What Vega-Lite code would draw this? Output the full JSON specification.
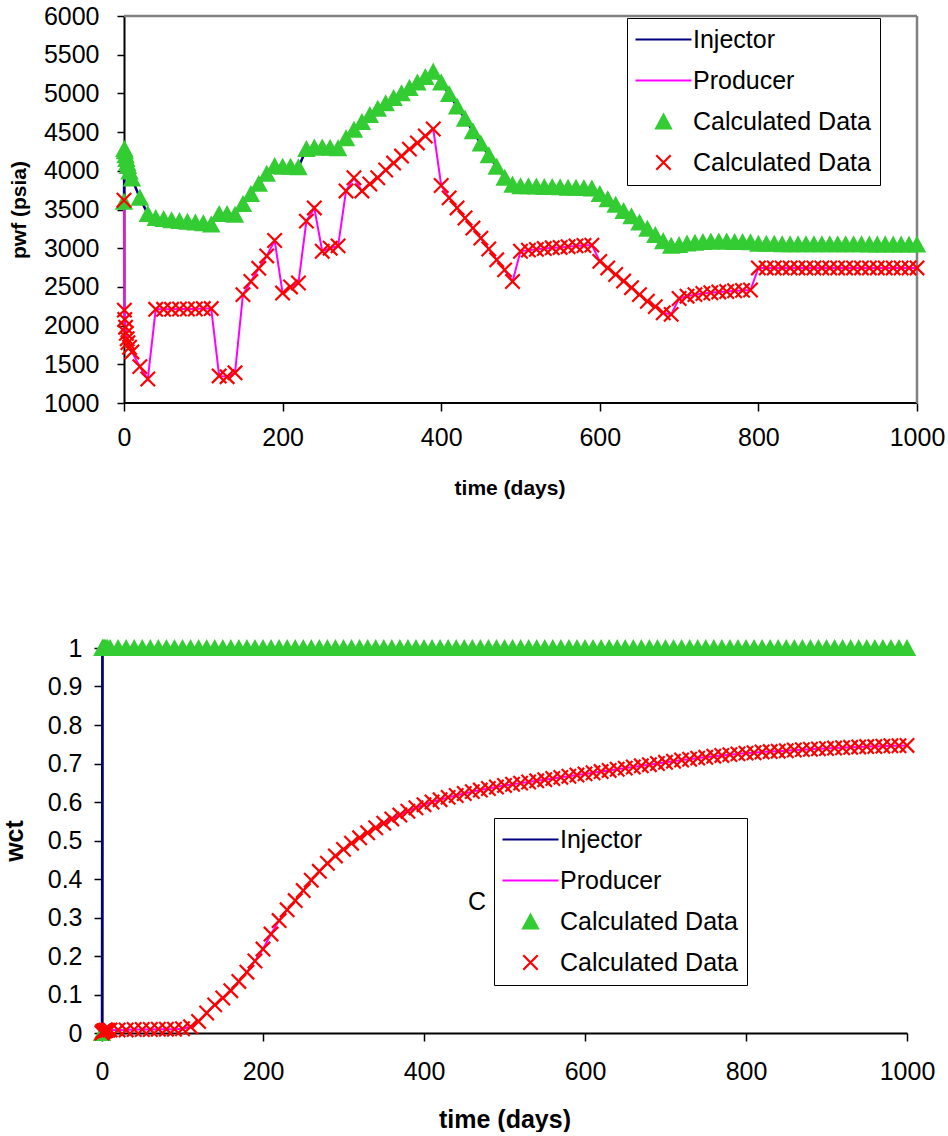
{
"$schema": "https://vega.github.io/schema/vega-lite/v6.json",
"background": "white",
"padding": {"left": 2, "top": 4, "right": 0, "bottom": 0},
"spacing": 138,
"config": {
  "view": {"stroke": null},
  "font": "Liberation Sans",
  "axis": {"labelFont": "Liberation Sans", "titleFont": "Liberation Sans", "labelColor": "#000", "titleColor": "#000", "grid": false, "tickColor": "#000", "domainColor": "#000", "domainWidth": 2, "tickWidth": 1.5, "labelOverlap": false, "labelFontSize": 25},
  "axisY": {"labelOverlap": false, "tickCount": 11},
  "axisX": {"labelOverlap": false},
  "axisQuantitative": {"labelOverlap": false}
},
"resolve": {"scale": {"shape": "independent", "fill": "independent", "stroke": "independent"}, "legend": {"shape": "independent", "fill": "independent", "stroke": "independent"}},
"datasets": {
"top": [
{"t":0,"CalcInj":3600,"CalcProd":3620},
{"t":0.5,"CalcInj":4280,"CalcProd":2200},
{"t":1,"CalcInj":4250,"CalcProd":2080},
{"t":2,"CalcInj":4200,"CalcProd":1980},
{"t":3,"CalcInj":4150,"CalcProd":1900},
{"t":4,"CalcInj":4100,"CalcProd":1830},
{"t":5,"CalcInj":4060,"CalcProd":1780},
{"t":7,"CalcInj":3990,"CalcProd":1720},
{"t":10,"CalcInj":3900,"CalcProd":1660},
{"t":20,"CalcInj":3650,"CalcProd":1470},
{"t":30,"CalcInj":3440,"CalcProd":1310},
{"t":40,"CalcInj":3390,"CalcProd":2210},
{"t":50,"CalcInj":3375,"CalcProd":2210},
{"t":60,"CalcInj":3360,"CalcProd":2210},
{"t":70,"CalcInj":3350,"CalcProd":2215},
{"t":80,"CalcInj":3340,"CalcProd":2215},
{"t":90,"CalcInj":3330,"CalcProd":2215},
{"t":100,"CalcInj":3320,"CalcProd":2220},
{"t":110,"CalcInj":3305,"CalcProd":2220},
{"t":120,"CalcInj":3440,"CalcProd":1350},
{"t":130,"CalcInj":3440,"CalcProd":1340},
{"t":140,"CalcInj":3430,"CalcProd":1390},
{"t":150,"CalcInj":3570,"CalcProd":2400},
{"t":160,"CalcInj":3700,"CalcProd":2570},
{"t":170,"CalcInj":3830,"CalcProd":2740},
{"t":180,"CalcInj":3960,"CalcProd":2900},
{"t":190,"CalcInj":4060,"CalcProd":3100},
{"t":200,"CalcInj":4050,"CalcProd":2420},
{"t":210,"CalcInj":4050,"CalcProd":2500},
{"t":220,"CalcInj":4045,"CalcProd":2550},
{"t":230,"CalcInj":4280,"CalcProd":3350},
{"t":240,"CalcInj":4300,"CalcProd":3520},
{"t":250,"CalcInj":4300,"CalcProd":2960},
{"t":260,"CalcInj":4295,"CalcProd":3000},
{"t":270,"CalcInj":4290,"CalcProd":3030},
{"t":280,"CalcInj":4420,"CalcProd":3740},
{"t":290,"CalcInj":4530,"CalcProd":3910},
{"t":300,"CalcInj":4630,"CalcProd":3740},
{"t":310,"CalcInj":4720,"CalcProd":3830},
{"t":320,"CalcInj":4800,"CalcProd":3910},
{"t":330,"CalcInj":4870,"CalcProd":4010},
{"t":340,"CalcInj":4940,"CalcProd":4100},
{"t":350,"CalcInj":5000,"CalcProd":4190},
{"t":360,"CalcInj":5070,"CalcProd":4280},
{"t":370,"CalcInj":5140,"CalcProd":4360},
{"t":380,"CalcInj":5210,"CalcProd":4450},
{"t":390,"CalcInj":5280,"CalcProd":4540},
{"t":400,"CalcInj":5140,"CalcProd":3810},
{"t":410,"CalcInj":4990,"CalcProd":3650},
{"t":420,"CalcInj":4830,"CalcProd":3520},
{"t":430,"CalcInj":4670,"CalcProd":3390},
{"t":440,"CalcInj":4510,"CalcProd":3260},
{"t":450,"CalcInj":4350,"CalcProd":3130},
{"t":460,"CalcInj":4200,"CalcProd":2990},
{"t":470,"CalcInj":4050,"CalcProd":2850},
{"t":480,"CalcInj":3910,"CalcProd":2720},
{"t":490,"CalcInj":3820,"CalcProd":2570},
{"t":500,"CalcInj":3800,"CalcProd":2960},
{"t":510,"CalcInj":3800,"CalcProd":2975},
{"t":520,"CalcInj":3795,"CalcProd":2985},
{"t":530,"CalcInj":3790,"CalcProd":2995},
{"t":540,"CalcInj":3790,"CalcProd":3005},
{"t":550,"CalcInj":3785,"CalcProd":3010},
{"t":560,"CalcInj":3780,"CalcProd":3020},
{"t":570,"CalcInj":3780,"CalcProd":3030},
{"t":580,"CalcInj":3775,"CalcProd":3035},
{"t":590,"CalcInj":3770,"CalcProd":3040},
{"t":600,"CalcInj":3700,"CalcProd":2830},
{"t":610,"CalcInj":3630,"CalcProd":2745},
{"t":620,"CalcInj":3560,"CalcProd":2660},
{"t":630,"CalcInj":3480,"CalcProd":2575},
{"t":640,"CalcInj":3410,"CalcProd":2490},
{"t":650,"CalcInj":3330,"CalcProd":2400},
{"t":660,"CalcInj":3250,"CalcProd":2315},
{"t":670,"CalcInj":3170,"CalcProd":2245},
{"t":680,"CalcInj":3090,"CalcProd":2165},
{"t":690,"CalcInj":3030,"CalcProd":2145},
{"t":700,"CalcInj":3040,"CalcProd":2350},
{"t":710,"CalcInj":3060,"CalcProd":2380},
{"t":720,"CalcInj":3070,"CalcProd":2400},
{"t":730,"CalcInj":3080,"CalcProd":2415},
{"t":740,"CalcInj":3085,"CalcProd":2425},
{"t":750,"CalcInj":3085,"CalcProd":2435},
{"t":760,"CalcInj":3085,"CalcProd":2440},
{"t":770,"CalcInj":3080,"CalcProd":2450},
{"t":780,"CalcInj":3080,"CalcProd":2455},
{"t":790,"CalcInj":3075,"CalcProd":2460},
{"t":800,"CalcInj":3055,"CalcProd":2745},
{"t":810,"CalcInj":3055,"CalcProd":2745},
{"t":820,"CalcInj":3055,"CalcProd":2745},
{"t":830,"CalcInj":3050,"CalcProd":2745},
{"t":840,"CalcInj":3050,"CalcProd":2745},
{"t":850,"CalcInj":3050,"CalcProd":2745},
{"t":860,"CalcInj":3050,"CalcProd":2745},
{"t":870,"CalcInj":3050,"CalcProd":2745},
{"t":880,"CalcInj":3050,"CalcProd":2745},
{"t":890,"CalcInj":3050,"CalcProd":2745},
{"t":900,"CalcInj":3050,"CalcProd":2745},
{"t":910,"CalcInj":3050,"CalcProd":2745},
{"t":920,"CalcInj":3050,"CalcProd":2745},
{"t":930,"CalcInj":3050,"CalcProd":2745},
{"t":940,"CalcInj":3048,"CalcProd":2745},
{"t":950,"CalcInj":3048,"CalcProd":2745},
{"t":960,"CalcInj":3048,"CalcProd":2745},
{"t":970,"CalcInj":3046,"CalcProd":2745},
{"t":980,"CalcInj":3046,"CalcProd":2745},
{"t":990,"CalcInj":3045,"CalcProd":2745},
{"t":1000,"CalcInj":3045,"CalcProd":2745}
],
"bot": [
{"t":0,"CalcInj":0,"CalcProd":0},
{"t":0.5,"CalcInj":1,"CalcProd":0.002},
{"t":1,"CalcInj":1,"CalcProd":0.004},
{"t":2,"CalcInj":1,"CalcProd":0.005},
{"t":3,"CalcInj":1,"CalcProd":0.006},
{"t":4,"CalcInj":1,"CalcProd":0.006},
{"t":5,"CalcInj":1,"CalcProd":0.007},
{"t":7,"CalcInj":1,"CalcProd":0.007},
{"t":10,"CalcInj":1,"CalcProd":0.008},
{"t":20,"CalcInj":1,"CalcProd":0.008},
{"t":30,"CalcInj":1,"CalcProd":0.008},
{"t":40,"CalcInj":1,"CalcProd":0.009},
{"t":50,"CalcInj":1,"CalcProd":0.009},
{"t":60,"CalcInj":1,"CalcProd":0.009},
{"t":70,"CalcInj":1,"CalcProd":0.01},
{"t":80,"CalcInj":1,"CalcProd":0.01},
{"t":90,"CalcInj":1,"CalcProd":0.01},
{"t":100,"CalcInj":1,"CalcProd":0.011},
{"t":110,"CalcInj":1,"CalcProd":0.016},
{"t":120,"CalcInj":1,"CalcProd":0.03},
{"t":130,"CalcInj":1,"CalcProd":0.052},
{"t":140,"CalcInj":1,"CalcProd":0.073},
{"t":150,"CalcInj":1,"CalcProd":0.091},
{"t":160,"CalcInj":1,"CalcProd":0.11},
{"t":170,"CalcInj":1,"CalcProd":0.134},
{"t":180,"CalcInj":1,"CalcProd":0.158},
{"t":190,"CalcInj":1,"CalcProd":0.187},
{"t":200,"CalcInj":1,"CalcProd":0.218},
{"t":210,"CalcInj":1,"CalcProd":0.257},
{"t":220,"CalcInj":1,"CalcProd":0.292},
{"t":230,"CalcInj":1,"CalcProd":0.32},
{"t":240,"CalcInj":1,"CalcProd":0.344},
{"t":250,"CalcInj":1,"CalcProd":0.37},
{"t":260,"CalcInj":1,"CalcProd":0.397},
{"t":270,"CalcInj":1,"CalcProd":0.42},
{"t":280,"CalcInj":1,"CalcProd":0.441},
{"t":290,"CalcInj":1,"CalcProd":0.46},
{"t":300,"CalcInj":1,"CalcProd":0.477},
{"t":310,"CalcInj":1,"CalcProd":0.493},
{"t":320,"CalcInj":1,"CalcProd":0.507},
{"t":330,"CalcInj":1,"CalcProd":0.52},
{"t":340,"CalcInj":1,"CalcProd":0.533},
{"t":350,"CalcInj":1,"CalcProd":0.545},
{"t":360,"CalcInj":1,"CalcProd":0.556},
{"t":370,"CalcInj":1,"CalcProd":0.566},
{"t":380,"CalcInj":1,"CalcProd":0.576},
{"t":390,"CalcInj":1,"CalcProd":0.585},
{"t":400,"CalcInj":1,"CalcProd":0.593},
{"t":410,"CalcInj":1,"CalcProd":0.6},
{"t":420,"CalcInj":1,"CalcProd":0.606},
{"t":430,"CalcInj":1,"CalcProd":0.612},
{"t":440,"CalcInj":1,"CalcProd":0.617},
{"t":450,"CalcInj":1,"CalcProd":0.622},
{"t":460,"CalcInj":1,"CalcProd":0.627},
{"t":470,"CalcInj":1,"CalcProd":0.631},
{"t":480,"CalcInj":1,"CalcProd":0.635},
{"t":490,"CalcInj":1,"CalcProd":0.639},
{"t":500,"CalcInj":1,"CalcProd":0.643},
{"t":510,"CalcInj":1,"CalcProd":0.646},
{"t":520,"CalcInj":1,"CalcProd":0.649},
{"t":530,"CalcInj":1,"CalcProd":0.652},
{"t":540,"CalcInj":1,"CalcProd":0.655},
{"t":550,"CalcInj":1,"CalcProd":0.658},
{"t":560,"CalcInj":1,"CalcProd":0.661},
{"t":570,"CalcInj":1,"CalcProd":0.664},
{"t":580,"CalcInj":1,"CalcProd":0.667},
{"t":590,"CalcInj":1,"CalcProd":0.67},
{"t":600,"CalcInj":1,"CalcProd":0.673},
{"t":610,"CalcInj":1,"CalcProd":0.676},
{"t":620,"CalcInj":1,"CalcProd":0.679},
{"t":630,"CalcInj":1,"CalcProd":0.682},
{"t":640,"CalcInj":1,"CalcProd":0.685},
{"t":650,"CalcInj":1,"CalcProd":0.688},
{"t":660,"CalcInj":1,"CalcProd":0.691},
{"t":670,"CalcInj":1,"CalcProd":0.694},
{"t":680,"CalcInj":1,"CalcProd":0.697},
{"t":690,"CalcInj":1,"CalcProd":0.7},
{"t":700,"CalcInj":1,"CalcProd":0.703},
{"t":710,"CalcInj":1,"CalcProd":0.706},
{"t":720,"CalcInj":1,"CalcProd":0.709},
{"t":730,"CalcInj":1,"CalcProd":0.711},
{"t":740,"CalcInj":1,"CalcProd":0.714},
{"t":750,"CalcInj":1,"CalcProd":0.716},
{"t":760,"CalcInj":1,"CalcProd":0.719},
{"t":770,"CalcInj":1,"CalcProd":0.721},
{"t":780,"CalcInj":1,"CalcProd":0.723},
{"t":790,"CalcInj":1,"CalcProd":0.725},
{"t":800,"CalcInj":1,"CalcProd":0.727},
{"t":810,"CalcInj":1,"CalcProd":0.728},
{"t":820,"CalcInj":1,"CalcProd":0.73},
{"t":830,"CalcInj":1,"CalcProd":0.731},
{"t":840,"CalcInj":1,"CalcProd":0.732},
{"t":850,"CalcInj":1,"CalcProd":0.733},
{"t":860,"CalcInj":1,"CalcProd":0.735},
{"t":870,"CalcInj":1,"CalcProd":0.736},
{"t":880,"CalcInj":1,"CalcProd":0.737},
{"t":890,"CalcInj":1,"CalcProd":0.738},
{"t":900,"CalcInj":1,"CalcProd":0.739},
{"t":910,"CalcInj":1,"CalcProd":0.74},
{"t":920,"CalcInj":1,"CalcProd":0.741},
{"t":930,"CalcInj":1,"CalcProd":0.742},
{"t":940,"CalcInj":1,"CalcProd":0.743},
{"t":950,"CalcInj":1,"CalcProd":0.744},
{"t":960,"CalcInj":1,"CalcProd":0.744},
{"t":970,"CalcInj":1,"CalcProd":0.745},
{"t":980,"CalcInj":1,"CalcProd":0.746},
{"t":990,"CalcInj":1,"CalcProd":0.746},
{"t":1000,"CalcInj":1,"CalcProd":0.747}
],
"note": [{"t": 466, "v": 0.341, "label": "C"}]
},
"vconcat": [
{
  "width": 815, "height": 387,
  "layer": [
    {
      "data": {"values": [{}]},
      "mark": {"type": "rule", "color": "#000", "strokeWidth": 2},
      "encoding": {"x": {"datum": 0, "type": "quantitative", "title": "time (days)"}, "x2": {"datum": 1000}, "y": {"datum": 1000, "type": "quantitative", "title": "pwf (psia)"}}
    },
    {
      "data": {"values": [{}]},
      "mark": {"type": "rule", "color": "#808080", "strokeWidth": 2.5},
      "encoding": {"x": {"datum": 0, "type": "quantitative", "title": "time (days)"}, "x2": {"datum": 1000}, "y": {"datum": 6000, "type": "quantitative", "title": "pwf (psia)"}}
    },
    {
      "data": {"values": [{}]},
      "mark": {"type": "rule", "color": "#808080", "strokeWidth": 2.5},
      "encoding": {"x": {"datum": 1000, "type": "quantitative", "title": "time (days)"}, "y": {"datum": 1000, "type": "quantitative", "title": "pwf (psia)"}, "y2": {"datum": 6000}}
    },
    {
      "data": {"name": "top"},
      "mark": {"type": "line", "color": "#000080", "strokeWidth": 2.5},
      "encoding": {
        "x": {"field": "t", "type": "quantitative", "title": "time (days)",
              "scale": {"domain": [-27.74, 1000], "nice": false, "zero": false},
              "axis": {"values": [0, 200, 400, 600, 800, 1000], "domain": false, "tickSize": 8, "labelFontSize": 25, "labelPadding": 14, "titleFontSize": 21, "titleFontWeight": "bold", "titlePadding": 27, "format": "d", "labelFlush": false, "labelOverlap": false}},
        "y": {"field": "CalcInj", "type": "quantitative", "title": "pwf (psia)",
              "scale": {"domain": [1000, 6000], "nice": false, "zero": false},
              "axis": {"values": [1000, 1500, 2000, 2500, 3000, 3500, 4000, 4500, 5000, 5500, 6000], "tickCount": 11, "offset": -22, "tickSize": 7, "labelFontSize": 25, "labelPadding": 18, "titleFontSize": 21, "titleFontWeight": "bold", "titlePadding": 14, "format": "d", "labelFlush": false, "labelOverlap": false}}
      }
    },
    {
      "data": {"name": "top"},
      "mark": {"type": "line", "color": "#ff00ff", "strokeWidth": 2},
      "encoding": {
        "x": {"field": "t", "type": "quantitative", "title": "time (days)"},
        "y": {"field": "CalcProd", "type": "quantitative", "title": "pwf (psia)"}
      }
    },
    {
      "data": {"name": "top"},
      "transform": [{"fold": ["CalcInj", "CalcProd"], "as": ["series", "p"]}],
      "mark": {"type": "point", "filled": true, "opacity": 1, "size": 256, "strokeWidth": 2.2},
      "encoding": {
        "x": {"field": "t", "type": "quantitative", "title": "time (days)"},
        "y": {"field": "p", "type": "quantitative", "title": "pwf (psia)"},
        "fill": {"field": "series", "type": "nominal",
          "scale": {"domain": ["Injector", "Producer", "CalcInj", "CalcProd"], "range": ["transparent", "transparent", "#33cc33", "transparent"]},
          "legend": {"orient": "none", "legendX": 525, "legendY": 2, "title": null, "direction": "vertical", "labelFontSize": 25, "labelFont": "Liberation Sans", "labelColor": "#000", "labelLimit": 400, "strokeColor": "#000", "fillColor": "#fff", "padding": 9, "rowPadding": 15, "symbolOffset": 15, "labelOffset": 17, "symbolSize": 256, "symbolStrokeWidth": 2.2, "symbolOpacity": 1, "labelExpr": "datum.label == 'CalcInj' || datum.label == 'CalcProd' ? 'Calculated Data' : datum.label"}},
        "stroke": {"field": "series", "type": "nominal",
          "scale": {"domain": ["Injector", "Producer", "CalcInj", "CalcProd"], "range": ["#000080", "#ff00ff", "#33cc33", "#ff0000"]},
          "legend": {"orient": "none", "legendX": 525, "legendY": 2, "title": null, "direction": "vertical", "labelFontSize": 25, "labelFont": "Liberation Sans", "labelColor": "#000", "labelLimit": 400, "strokeColor": "#000", "fillColor": "#fff", "padding": 9, "rowPadding": 15, "symbolOffset": 15, "labelOffset": 17, "symbolSize": 256, "symbolStrokeWidth": 2.2, "symbolOpacity": 1, "labelExpr": "datum.label == 'CalcInj' || datum.label == 'CalcProd' ? 'Calculated Data' : datum.label"}},
        "shape": {"field": "series", "type": "nominal",
          "scale": {"domain": ["Injector", "Producer", "CalcInj", "CalcProd"], "range": ["M-3.5,0L3.5,0", "M-3.5,0L3.5,0", "M0,-0.85L0.92,0.85L-0.92,0.85Z", "M-0.9,-0.9L0.9,0.9M-0.9,0.9L0.9,-0.9"]},
          "legend": {"orient": "none", "legendX": 525, "legendY": 2, "title": null, "direction": "vertical", "labelFontSize": 25, "labelFont": "Liberation Sans", "labelColor": "#000", "labelLimit": 400, "strokeColor": "#000", "fillColor": "#fff", "padding": 9, "rowPadding": 15, "symbolOffset": 15, "labelOffset": 17, "symbolSize": 256, "symbolStrokeWidth": 2.2, "symbolOpacity": 1, "labelExpr": "datum.label == 'CalcInj' || datum.label == 'CalcProd' ? 'Calculated Data' : datum.label"}}
      }
    }
  ]
},
{
  "width": 805, "height": 385,
  "layer": [
    {
      "data": {"name": "bot"},
      "mark": {"type": "line", "color": "#000080", "strokeWidth": 2.5},
      "encoding": {
        "x": {"field": "t", "type": "quantitative", "title": "time (days)",
              "scale": {"domain": [0, 1000], "nice": false, "zero": false},
              "axis": {"values": [0, 200, 400, 600, 800, 1000], "tickSize": 8, "labelFontSize": 25, "labelPadding": 18, "titleFontSize": 25, "titleFontWeight": "bold", "titlePadding": 23, "format": "d", "labelFlush": false, "labelOverlap": false}},
        "y": {"field": "CalcInj", "type": "quantitative", "title": "wct",
              "scale": {"domain": [0, 1], "nice": false, "zero": false},
              "axis": {"values": [0, 0.1, 0.2, 0.3, 0.4, 0.5, 0.6, 0.7, 0.8, 0.9, 1], "tickCount": 11, "tickSize": 8, "labelFontSize": 25, "labelPadding": 12, "titleFontSize": 25, "titleFontWeight": "bold", "titlePadding": 20, "format": "~g", "labelFlush": false, "labelOverlap": false}}
      }
    },
    {
      "data": {"name": "bot"},
      "mark": {"type": "line", "color": "#ff00ff", "strokeWidth": 2},
      "encoding": {
        "x": {"field": "t", "type": "quantitative", "title": "time (days)"},
        "y": {"field": "CalcProd", "type": "quantitative", "title": "wct"}
      }
    },
    {
      "data": {"name": "bot"},
      "transform": [{"fold": ["CalcInj", "CalcProd"], "as": ["series", "p"]}],
      "mark": {"type": "point", "filled": true, "opacity": 1, "size": 256, "strokeWidth": 2.2},
      "encoding": {
        "x": {"field": "t", "type": "quantitative", "title": "time (days)"},
        "y": {"field": "p", "type": "quantitative", "title": "wct"},
        "fill": {"field": "series", "type": "nominal",
          "scale": {"domain": ["Injector", "Producer", "CalcInj", "CalcProd"], "range": ["transparent", "transparent", "#33cc33", "transparent"]},
          "legend": {"orient": "none", "legendX": 392, "legendY": 170, "title": null, "direction": "vertical", "labelFontSize": 25, "labelFont": "Liberation Sans", "labelColor": "#000", "labelLimit": 400, "strokeColor": "#000", "fillColor": "#fff", "padding": 9, "rowPadding": 15, "symbolOffset": 15, "labelOffset": 17, "symbolSize": 256, "symbolStrokeWidth": 2.2, "symbolOpacity": 1, "labelExpr": "datum.label == 'CalcInj' || datum.label == 'CalcProd' ? 'Calculated Data' : datum.label"}},
        "stroke": {"field": "series", "type": "nominal",
          "scale": {"domain": ["Injector", "Producer", "CalcInj", "CalcProd"], "range": ["#000080", "#ff00ff", "#33cc33", "#ff0000"]},
          "legend": {"orient": "none", "legendX": 392, "legendY": 170, "title": null, "direction": "vertical", "labelFontSize": 25, "labelFont": "Liberation Sans", "labelColor": "#000", "labelLimit": 400, "strokeColor": "#000", "fillColor": "#fff", "padding": 9, "rowPadding": 15, "symbolOffset": 15, "labelOffset": 17, "symbolSize": 256, "symbolStrokeWidth": 2.2, "symbolOpacity": 1, "labelExpr": "datum.label == 'CalcInj' || datum.label == 'CalcProd' ? 'Calculated Data' : datum.label"}},
        "shape": {"field": "series", "type": "nominal",
          "scale": {"domain": ["Injector", "Producer", "CalcInj", "CalcProd"], "range": ["M-3.5,0L3.5,0", "M-3.5,0L3.5,0", "M0,-0.85L0.92,0.85L-0.92,0.85Z", "M-0.9,-0.9L0.9,0.9M-0.9,0.9L0.9,-0.9"]},
          "legend": {"orient": "none", "legendX": 392, "legendY": 170, "title": null, "direction": "vertical", "labelFontSize": 25, "labelFont": "Liberation Sans", "labelColor": "#000", "labelLimit": 400, "strokeColor": "#000", "fillColor": "#fff", "padding": 9, "rowPadding": 15, "symbolOffset": 15, "labelOffset": 17, "symbolSize": 256, "symbolStrokeWidth": 2.2, "symbolOpacity": 1, "labelExpr": "datum.label == 'CalcInj' || datum.label == 'CalcProd' ? 'Calculated Data' : datum.label"}}
      }
    },
    {
      "data": {"name": "note"},
      "mark": {"type": "text", "fontSize": 25, "font": "Liberation Sans", "color": "#000", "align": "center", "baseline": "middle"},
      "encoding": {
        "x": {"field": "t", "type": "quantitative", "title": "time (days)"},
        "y": {"field": "v", "type": "quantitative", "title": "wct"},
        "text": {"field": "label"}
      }
    }
  ]
}
]
}
